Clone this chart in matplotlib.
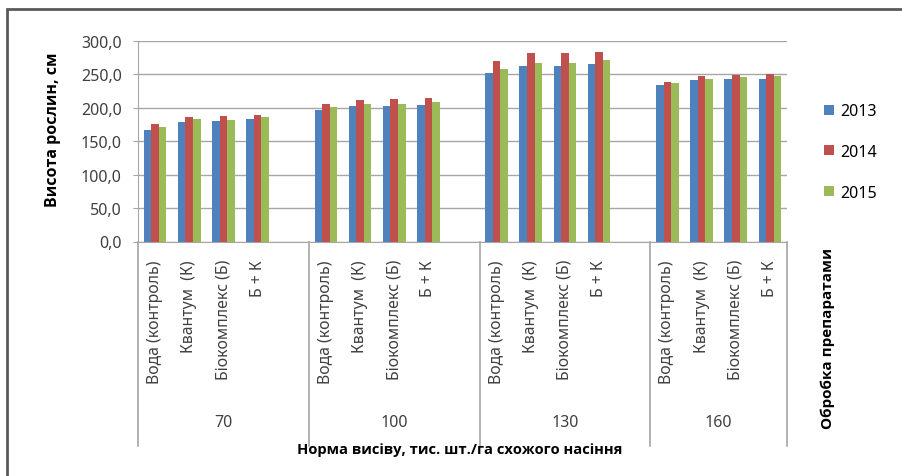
import matplotlib
matplotlib.use('Agg')
import matplotlib.pyplot as plt
import numpy as np
from matplotlib.transforms import blended_transform_factory
from matplotlib.patches import Rectangle
from matplotlib.lines import Line2D

plt.rcParams['font.family'] = ['Noto Sans', 'DejaVu Sans']
BOLD = ['Open Sans', 'DejaVu Sans']

# data
norms = ['70', '100', '130', '160']
treatments = ['Вода (контроль)', 'Квантум  (К)', 'Біокомплекс (Б)', 'Б + К']
years = ['2013', '2014', '2015']
h2013 = [166.5, 179, 180.5, 183, 196, 202.5, 202.5, 204,
         251.5, 262, 263, 265, 233.5, 241, 243, 243]
h2014 = [175.5, 185.5, 187, 189.5, 205.5, 211.5, 213, 214.5,
         270.5, 281.5, 281.5, 283.5, 239, 247.5, 249.5, 251]
h2015 = [171.5, 183, 181.5, 185.5, 200.5, 205.5, 205.5, 209,
         258, 267.5, 267.5, 272, 237, 243, 246.5, 247.5]
yticks = [0, 50, 100, 150, 200, 250, 300]
colors = ['#4F81BD', '#C0504D', '#9BBB59']

W, H = 903, 477
fig = plt.figure(figsize=(W / 100, H / 100), dpi=100)
ax = fig.add_axes([138 / W, 1 - 242.5 / H, (787 - 138) / W, (242.5 - 41.8) / H])

# each norm group gets 5 slots (4 treatments + a blank one), last one 4
step = len(treatments) + 1
pos = np.array([g * step + t for g in range(len(norms)) for t in range(len(treatments))])
bw = 0.221
handles = []
for k, vals in enumerate([h2013, h2014, h2015]):
    b = ax.bar(pos + (k - 1) * bw, vals, width=bw, color=colors[k], zorder=3)
    handles.append(b)

nslots = len(norms) * step - 1
ax.set_xlim(-0.5, nslots - 0.5)
ax.set_ylim(0, 300)

grey = '#a6a6a6'
ax.set_yticks(yticks)
ax.set_yticklabels([('%.1f' % v).replace('.', ',') for v in yticks])
ax.yaxis.grid(True, color=grey, lw=1, zorder=0)
for s in ['top', 'right']:
    ax.spines[s].set_visible(False)
for s in ['left', 'bottom']:
    ax.spines[s].set_color(grey)
ax.tick_params(axis='y', length=3.6, color=grey, pad=8, labelsize=11.5, labelcolor='#404040')

ax.set_xticks(pos)
ax.set_xticklabels(treatments * len(norms), rotation=90)
ax.tick_params(axis='x', length=0, pad=12.6, labelsize=11.4, labelcolor='#404040')

tr = blended_transform_factory(ax.transData, fig.transFigure)
edges = [-0.5 + g * step for g in range(len(norms))] + [nslots - 0.5]
for e in edges:
    ax.add_line(Line2D([e, e], [1 - 242.5 / H, 1 - 447 / H], transform=tr,
                       color=grey, lw=1.2, clip_on=False))
for g, name in enumerate(norms):
    c = (edges[g] + edges[g + 1]) / 2
    ax.text(c, 1 - 423 / H, name, transform=tr, ha='center', va='center',
            fontsize=11.5, color='#404040')

fig.text(53 / W, 1 - 130 / H, 'Висота рослин, см', rotation=90, ha='center',
         va='center', fontsize=11.5, fontweight='bold', family=BOLD)
fig.text(460 / W, 1 - 450 / H, 'Норма висіву, тис. шт./га схожого насіння',
         ha='center', va='center', fontsize=10.6, fontweight='bold', family=BOLD)
fig.text(828 / W, 1 - 338 / H, 'Обробка препаратами', rotation=90, ha='center',
         va='center', fontsize=11, fontweight='bold', family=BOLD)

fig.legend(handles, years, loc='center left', bbox_to_anchor=(824 / W, 1 - 153 / H),
           frameon=False, handlelength=0.6, handleheight=0.6, handletextpad=0.4,
           labelspacing=1.55, fontsize=11.5, borderaxespad=0, borderpad=0)

fig.patches.append(Rectangle((7 / W, -0.1), 1.2, 1 - 10 / H + 0.1, transform=fig.transFigure,
                             fill=False, edgecolor='#595959', lw=2))

fig.savefig('out.png', dpi=100)
